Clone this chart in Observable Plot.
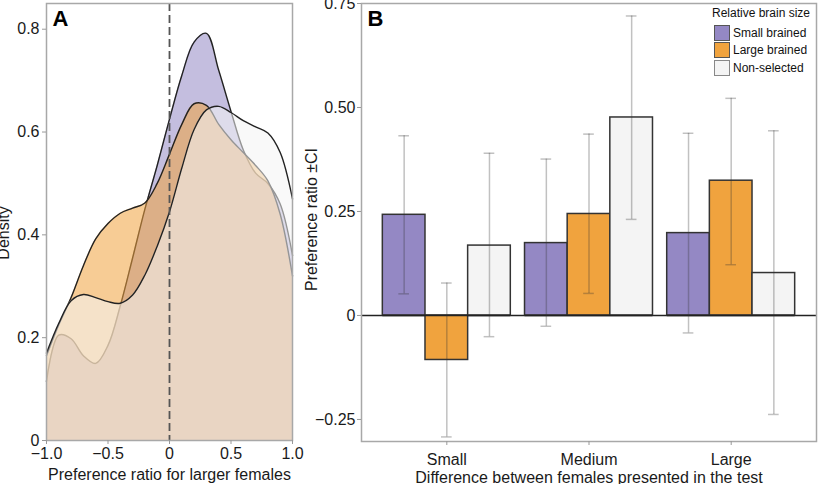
<!DOCTYPE html>
<html>
<head>
<meta charset="utf-8">
<script src="https://cdn.jsdelivr.net/npm/d3@7"></script>
<script src="https://cdn.jsdelivr.net/npm/@observablehq/plot@0.6"></script>
<style>
  body { margin: 0; background: #fff; }
  #wrap { position: relative; width: 828px; height: 484px; overflow: hidden; background: #fff;
          font-family: "Liberation Sans", Arial, sans-serif; }
  #panelA { position: absolute; left: 0; top: 0; width: 300px; height: 484px; }
  #panelB0, #panelB { position: absolute; left: 300px; top: 0; width: 528px; height: 484px; }
  #wrap svg { max-width: none !important; }
  #legend { position: absolute; left: 712px; top: 7px; font-size: 12px; color: #111; line-height: 1; }
  #legend .title { height: 17px; }
  #legend .row { display: flex; align-items: center; height: 17.5px; margin-left: 2px; }
  #legend .sw { width: 14px; height: 14px; border: 1px solid #555; margin-right: 3px; box-sizing: content-box; }
</style>
</head>
<body>
<div id="wrap">
  <div id="panelA"></div>
  <div id="panelB0"></div>
  <div id="panelB"></div>
  <div id="legend"></div>
</div>
<script>
// ---------- data ----------
const seriesNames = ["Small brained", "Large brained", "Non-selected"];
const seriesColors = ["#9488c4", "#f0a33e", "#f4f4f4"];

// Panel A: density curves
const densityX = [-1.0, -0.9, -0.8, -0.7, -0.6, -0.5, -0.4, -0.3, -0.2, -0.1, 0.0, 0.1, 0.2, 0.3, 0.4, 0.5, 0.6, 0.7, 0.8, 0.9, 1.0];
const densitySmall = [0.115, 0.205, 0.198, 0.165, 0.150, 0.185, 0.262, 0.355, 0.450, 0.535, 0.625, 0.710, 0.775, 0.792, 0.720, 0.640, 0.565, 0.520, 0.500, 0.460, 0.360];
const densityLarge = [0.165, 0.225, 0.278, 0.340, 0.392, 0.422, 0.442, 0.452, 0.462, 0.500, 0.557, 0.615, 0.655, 0.652, 0.615, 0.585, 0.560, 0.535, 0.505, 0.440, 0.320];
const densityNon   = [0.170, 0.228, 0.272, 0.284, 0.278, 0.270, 0.267, 0.283, 0.322, 0.378, 0.445, 0.530, 0.605, 0.643, 0.650, 0.638, 0.622, 0.610, 0.598, 0.560, 0.470];

const densityTicks = [0, 0.2, 0.4, 0.6, 0.8];
const densityTickLabels = ["0", "0.2", "0.4", "0.6", "0.8"];
const ratioTicks = [-1, -0.5, 0, 0.5, 1];
const ratioTickLabels = ["\u22121.0", "\u22120.5", "0", "0.5", "1.0"];

// Panel B: grouped bars with CI
const groups = ["Small", "Medium", "Large"];
const prefSmallBrained = [0.242, 0.174, 0.198];
const prefLargeBrained = [-0.107, 0.244, 0.324];
const prefNonSelected  = [0.168, 0.476, 0.102];
const ciLowSmallBrained  = [0.052, -0.026, -0.042];
const ciHighSmallBrained = [0.432, 0.376, 0.438];
const ciLowLargeBrained  = [-0.292, 0.053, 0.122];
const ciHighLargeBrained = [0.078, 0.436, 0.522];
const ciLowNonSelected   = [-0.051, 0.231, -0.238];
const ciHighNonSelected  = [0.390, 0.720, 0.444];

const prefTicks = [-0.25, 0, 0.25, 0.5, 0.75];
const prefTickLabels = ["\u22120.25", "0", "0.25", "0.50", "0.75"];

// ---------- tables ----------
const densitySeries = [densitySmall, densityLarge, densityNon];
const densityRows = seriesNames.map((s, k) => densityX.map((x, i) => ({series: s, x, y: densitySeries[k][i]})));

const prefs = [prefSmallBrained, prefLargeBrained, prefNonSelected];
const lows = [ciLowSmallBrained, ciLowLargeBrained, ciLowNonSelected];
const highs = [ciHighSmallBrained, ciHighLargeBrained, ciHighNonSelected];
const bars = groups.flatMap((g, i) => seriesNames.map((s, k) => ({group: g, type: s, value: prefs[k][i], lo: lows[k][i], hi: highs[k][i]})));

const fontStyle = {fontFamily: "'Liberation Sans', Arial, sans-serif", fontSize: "16px", color: "#1a1a1a", background: "transparent", overflow: "visible"};
const colorScale = {domain: seriesNames, range: seriesColors};
const ink = "#1a1a1a";

// ---------- panel A ----------
const marksA = [];
densityRows.forEach(rows => {
  marksA.push(Plot.areaY(rows, {x: "x", y: "y", fill: "series", fillOpacity: 0.55, curve: "catmull-rom"}));
  marksA.push(Plot.lineY(rows, {x: "x", y: "y", stroke: "#222", strokeWidth: 1.4, curve: "catmull-rom"}));
});
marksA.push(
  Plot.ruleX([0], {stroke: "#555", strokeWidth: 1.8, strokeDasharray: "8,4"}),
  Plot.frame({stroke: "#a8a8a8", strokeWidth: 1.5}),
  Plot.axisY({ticks: densityTicks, tickFormat: d => densityTickLabels[densityTicks.indexOf(d)], tickSize: 4, tickPadding: 3, stroke: "#999", fill: ink, label: null}),
  Plot.axisX({ticks: ratioTicks, tickFormat: d => ratioTickLabels[ratioTicks.indexOf(d)], tickSize: 4, tickPadding: 3, stroke: "#999", fill: ink, label: null}),
  Plot.text(["Preference ratio for larger females"], {frameAnchor: "bottom", dy: 34, lineAnchor: "middle", textAnchor: "middle", fontSize: 16, fill: ink}),
  Plot.text(["Density"], {frameAnchor: "left", rotate: -90, dx: -43, dy: 11, lineAnchor: "middle", textAnchor: "middle", fontSize: 16, fill: ink}),
  Plot.text(["A"], {frameAnchor: "top-left", dx: 6, dy: 7, fontSize: 22, fontWeight: "bold", textAnchor: "start", lineAnchor: "top", fill: "#000"})
);

const plotA = Plot.plot({
  width: 300, height: 484,
  marginLeft: 46, marginRight: 8, marginTop: 3, marginBottom: 44,
  x: {domain: [-1, 1]},
  y: {domain: [0, 0.85]},
  color: colorScale,
  style: fontStyle,
  marks: marksA
});
document.getElementById("panelA").append(plotA);

// ---------- panel B ----------
const dimsB = {width: 528, height: 484, marginLeft: 61, marginRight: 12, marginTop: 3, marginBottom: 43};
const yB = {domain: [-0.303, 0.75]};

// background layer: frame, zero line, y axis and titles (whole panel)
const plotB0 = Plot.plot({
  ...dimsB,
  x: {domain: [0, 1], axis: null},
  y: yB,
  style: fontStyle,
  marks: [
    Plot.ruleY([0], {stroke: "#222", strokeWidth: 1.5}),
    Plot.frame({stroke: "#a8a8a8", strokeWidth: 1.5}),
    Plot.axisY({ticks: prefTicks, tickFormat: d => prefTickLabels[prefTicks.indexOf(d)], tickSize: 4, tickPadding: 2, stroke: "#999", fill: ink, label: null}),
    Plot.text(["Difference between females presented in the test"], {frameAnchor: "bottom", dy: 36.5, lineAnchor: "middle", textAnchor: "middle", fontSize: 16, fill: ink}),
    Plot.text(["Preference ratio \u00b1CI"], {frameAnchor: "left", rotate: -90, dx: -50, dy: -3, lineAnchor: "middle", textAnchor: "middle", fontSize: 16, fill: ink}),
    Plot.text(["B"], {frameAnchor: "top-left", dx: 6, dy: 7, fontSize: 22, fontWeight: "bold", textAnchor: "start", lineAnchor: "top", fill: "#000"})
  ]
});
document.getElementById("panelB0").append(plotB0);

// foreground layer: grouped bars and CI, faceted by group
const plotB = Plot.plot({
  ...dimsB,
  fx: {domain: groups, paddingInner: 0.1, paddingOuter: 0.15, round: false},
  x: {domain: seriesNames, padding: 0, axis: null, round: false},
  y: {...yB, axis: null},
  color: colorScale,
  style: fontStyle,
  marks: [
    Plot.barY(bars, {fx: "group", x: "type", y: "value", fill: "type", stroke: "#333", strokeWidth: 1.5}),
    Plot.ruleY([0], {stroke: "#222", strokeWidth: 1.5}),
    Plot.ruleX(bars, {fx: "group", x: "type", y1: "lo", y2: "hi", stroke: "#333", strokeOpacity: 0.3, strokeWidth: 1.5}),
    Plot.tickY(bars, {fx: "group", x: "type", y: "lo", inset: 16, stroke: "#333", strokeOpacity: 0.3, strokeWidth: 1.5}),
    Plot.tickY(bars, {fx: "group", x: "type", y: "hi", inset: 16, stroke: "#333", strokeOpacity: 0.3, strokeWidth: 1.5}),
    Plot.axisFx({anchor: "bottom", tickSize: 4, tickPadding: 8, stroke: "#999", fill: ink, label: null})
  ]
});
document.getElementById("panelB").append(plotB);

// ---------- legend ----------
const legend = document.getElementById("legend");
const t = document.createElement("div");
t.className = "title";
t.textContent = "Relative brain size";
legend.append(t);
seriesNames.forEach((s, k) => {
  const row = document.createElement("div");
  row.className = "row";
  const sw = document.createElement("div");
  sw.className = "sw";
  sw.style.background = seriesColors[k];
  if (k === 2) sw.style.borderColor = "#888";
  const lab = document.createElement("span");
  lab.textContent = s;
  row.append(sw, lab);
  legend.append(row);
});
</script>
</body>
</html>
